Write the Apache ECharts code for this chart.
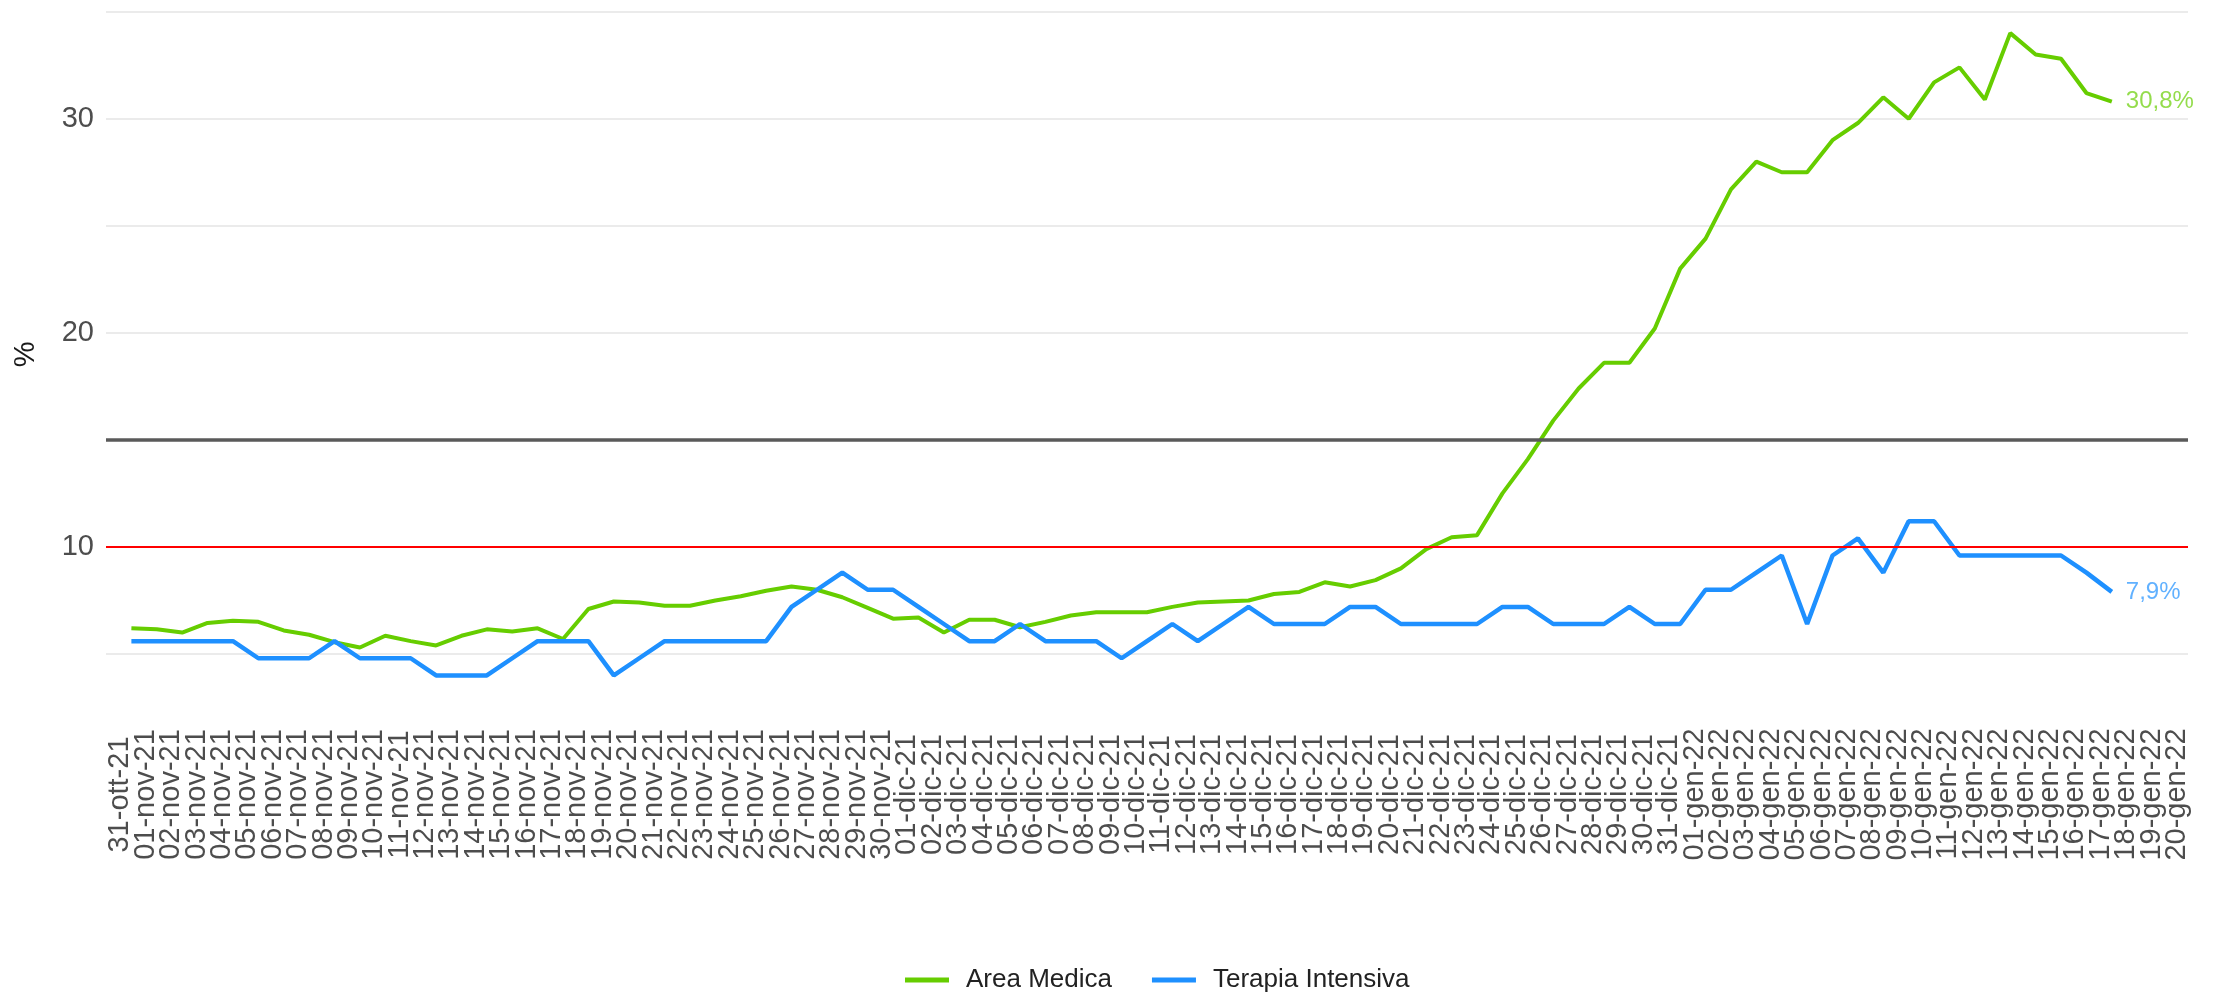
<!DOCTYPE html>
<html><head><meta charset="utf-8">
<script src="https://cdn.jsdelivr.net/npm/echarts@6/dist/echarts.min.js"></script>
<style>html,body{margin:0;padding:0;background:#fff}#c{width:2221px;height:999px}</style>
</head><body><div id="c"></div>
<script>
const dateLabels = [
  '31-ott-21',
  '01-nov-21','02-nov-21','03-nov-21','04-nov-21','05-nov-21','06-nov-21','07-nov-21','08-nov-21','09-nov-21','10-nov-21',
  '11-nov-21','12-nov-21','13-nov-21','14-nov-21','15-nov-21','16-nov-21','17-nov-21','18-nov-21','19-nov-21','20-nov-21',
  '21-nov-21','22-nov-21','23-nov-21','24-nov-21','25-nov-21','26-nov-21','27-nov-21','28-nov-21','29-nov-21','30-nov-21',
  '01-dic-21','02-dic-21','03-dic-21','04-dic-21','05-dic-21','06-dic-21','07-dic-21','08-dic-21','09-dic-21','10-dic-21',
  '11-dic-21','12-dic-21','13-dic-21','14-dic-21','15-dic-21','16-dic-21','17-dic-21','18-dic-21','19-dic-21','20-dic-21',
  '21-dic-21','22-dic-21','23-dic-21','24-dic-21','25-dic-21','26-dic-21','27-dic-21','28-dic-21','29-dic-21','30-dic-21','31-dic-21',
  '01-gen-22','02-gen-22','03-gen-22','04-gen-22','05-gen-22','06-gen-22','07-gen-22','08-gen-22','09-gen-22','10-gen-22',
  '11-gen-22','12-gen-22','13-gen-22','14-gen-22','15-gen-22','16-gen-22','17-gen-22','18-gen-22','19-gen-22','20-gen-22'
];
const areaMedica = [
  6.2, 6.15, 6.0, 6.45, 6.55, 6.5, 6.1, 5.9, 5.55, 5.3,
  5.85, 5.6, 5.4, 5.85, 6.15, 6.05, 6.2, 5.7, 7.1, 7.45,
  7.4, 7.25, 7.25, 7.5, 7.7, 7.95, 8.15, 8.0, 7.65, 7.15,
  6.65, 6.7, 6.0, 6.6, 6.6, 6.25, 6.5, 6.8, 6.95, 6.95,
  6.95, 7.2, 7.4, 7.45, 7.5, 7.8, 7.9, 8.35, 8.15, 8.45,
  9.0, 9.9, 10.45, 10.55, 12.5, 14.1, 15.9, 17.4, 18.6, 18.6,
  20.2, 23.0, 24.4, 26.7, 28.0, 27.5, 27.5, 29.0, 29.8, 31.0,
  30.0, 31.7, 32.4, 30.9, 34.0, 33.0, 32.8, 31.2, 30.8
];
const terapiaIntensiva = [
  5.6, 5.6, 5.6, 5.6, 5.6, 4.8, 4.8, 4.8, 5.6, 4.8,
  4.8, 4.8, 4.0, 4.0, 4.0, 4.8, 5.6, 5.6, 5.6, 4.0,
  4.8, 5.6, 5.6, 5.6, 5.6, 5.6, 7.2, 8.0, 8.8, 8.0,
  8.0, 7.2, 6.4, 5.6, 5.6, 6.4, 5.6, 5.6, 5.6, 4.8,
  5.6, 6.4, 5.6, 6.4, 7.2, 6.4, 6.4, 6.4, 7.2, 7.2,
  6.4, 6.4, 6.4, 6.4, 7.2, 7.2, 6.4, 6.4, 6.4, 7.2,
  6.4, 6.4, 8.0, 8.0, 8.8, 9.6, 6.4, 9.6, 10.4, 8.8,
  11.2, 11.2, 9.6, 9.6, 9.6, 9.6, 9.6, 8.8, 7.9
];
const yTickLabels = [10, 20, 30];
const sogliaAreaMedica = 15;
const sogliaTerapiaIntensiva = 10;
const seriesNames = ['Area Medica', 'Terapia Intensiva'];

const toPoints = arr => arr.map((v, i) => [i + 1, v]);
const fmtPct = p => p.value[1].toFixed(1).replace('.', ',') + '%';
const FONT = '"Liberation Sans", Arial, sans-serif';

const chart = echarts.init(document.getElementById('c'), null, {renderer: 'canvas'});
chart.setOption({
  animation: false,
  backgroundColor: '#ffffff',
  textStyle: {fontFamily: FONT},
  grid: {left: 106, right: 33, top: 1, bottom: 291.5, containLabel: false},
  legend: {
    data: seriesNames,
    left: 900, top: 962,
    icon: 'rect', itemWidth: 44, itemHeight: 5, itemGap: 40,
    textStyle: {fontSize: 26, color: '#222', fontFamily: FONT, padding: [0, 0, 0, 12]}
  },
  xAxis: {
    type: 'value', min: 0, max: dateLabels.length + 0.001, interval: 1,
    axisLine: {show: false}, axisTick: {show: false}, splitLine: {show: false},
    axisLabel: {
      rotate: 90, align: 'center', verticalAlign: 'bottom', margin: 87,
      lineHeight: 22,
      showMaxLabel: false, showMinLabel: false, hideOverlap: false,
      fontSize: 29, color: '#4d4d4d', fontFamily: FONT,
      formatter: v => (Number.isInteger(v) && dateLabels[v - 1]) || ''
    }
  },
  yAxis: {
    type: 'value', min: 2.5, max: 35.5, interval: 2.5,
    name: '%', nameLocation: 'middle', nameRotate: 90, nameGap: 66,
    nameTextStyle: {fontSize: 29, color: '#1a1a1a', fontFamily: FONT},
    axisLine: {show: false}, axisTick: {show: false},
    splitLine: {show: true, lineStyle: {color: ['rgba(0,0,0,0)', '#ebebeb'], width: 2}},
    axisLabel: {
      margin: 12, fontSize: 29, color: '#4d4d4d', fontFamily: FONT,
      formatter: v => yTickLabels.includes(Math.round(v * 100) / 100) ? String(Math.round(v)) : ''
    }
  },
  series: [
    {
      name: seriesNames[0], type: 'line', data: toPoints(areaMedica),
      showSymbol: false, symbol: 'none',
      lineStyle: {color: '#66cd00', width: 4}, itemStyle: {color: '#66cd00'},
      endLabel: {show: true, formatter: fmtPct, distance: 14, fontSize: 24,
                 color: 'rgba(102,205,0,0.7)', fontFamily: FONT},
      z: 2
    },
    {
      name: seriesNames[1], type: 'line', data: toPoints(terapiaIntensiva),
      showSymbol: false, symbol: 'none',
      lineStyle: {color: '#1e90ff', width: 4.5}, itemStyle: {color: '#1e90ff'},
      endLabel: {show: true, formatter: fmtPct, distance: 14, fontSize: 24,
                 color: 'rgba(30,144,255,0.7)', fontFamily: FONT},
      markLine: {
        silent: true, symbol: 'none', label: {show: false},
        data: [
          {yAxis: sogliaAreaMedica, lineStyle: {color: '#5a5a5a', width: 3.5, type: 'solid'}},
          {yAxis: sogliaTerapiaIntensiva, lineStyle: {color: '#ff0000', width: 2, type: 'solid'}}
        ]
      },
      z: 3
    }
  ]
});
</script>
</body></html>
